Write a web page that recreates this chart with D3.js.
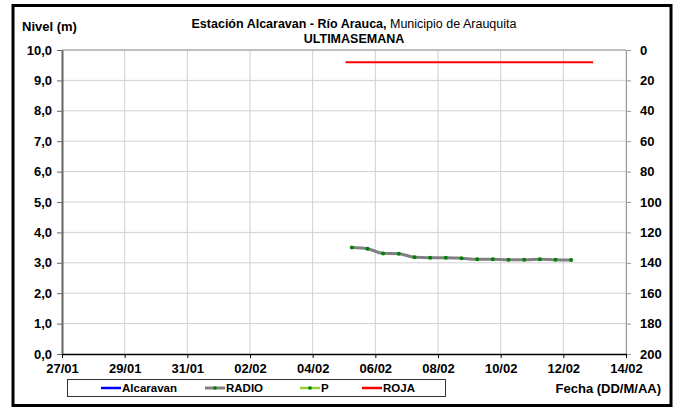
<!DOCTYPE html>
<html><head><meta charset="utf-8">
<script src="https://cdn.jsdelivr.net/npm/d3@7"></script>
<style>body{margin:0;background:#fff}svg{display:block;font-family:"Liberation Sans",Arial,sans-serif}</style>
</head><body><svg id="c" width="677" height="409"></svg>
<script>
// Data (days since 27/01)
const xTickLabels = ["27/01","29/01","31/01","02/02","04/02","06/02","08/02","10/02","12/02","14/02"];
const leftTickLabels = ["0,0","1,0","2,0","3,0","4,0","5,0","6,0","7,0","8,0","9,0","10,0"];
const rightTickLabels = ["0","20","40","60","80","100","120","140","160","180","200"];
const radioDays = [9.25,9.75,10.25,10.75,11.25,11.75,12.25,12.75,13.25,13.75,14.25,14.75,15.25,15.75,16.25];
const radioValues = [3.50,3.46,3.31,3.30,3.18,3.17,3.17,3.15,3.12,3.12,3.10,3.10,3.12,3.10,3.09];
const rojaDays = [9.05,16.95];
const rojaValues = [9.6,9.6];
const legendItems = ["Alcaravan","RADIO","P","ROJA"];

const svg = d3.select("#c");
const L=62,R=626,T=50,B=354;
const x = d3.scaleLinear().domain([0,18]).range([L,R]);
const y = d3.scaleLinear().domain([0,10]).range([B,T]);
const y2 = d3.scaleLinear().domain([0,200]).range([T,B]);

// outer border
svg.append("rect").attr("x",13).attr("y",5.5).attr("width",658).attr("height",400).attr("fill","#fff").attr("stroke","#000").attr("stroke-width",3);

// grid
const g = svg.append("g");
d3.range(1,10).forEach(i=>{
  g.append("line").attr("x1",x(i*2)).attr("x2",x(i*2)).attr("y1",T).attr("y2",B).attr("stroke","#d0d0d0").attr("stroke-width",1);
});
d3.range(1,11).forEach(i=>{
  g.append("line").attr("x1",L).attr("x2",R).attr("y1",y(i)).attr("y2",y(i)).attr("stroke","#d0d0d0").attr("stroke-width",1);
});
g.append("line").attr("x1",L).attr("x2",R).attr("y1",T).attr("y2",T).attr("stroke","#999");

// axes
const fs = "13px";
const leftAxis = d3.axisLeft(y).tickValues(d3.range(0,11)).tickFormat((d,i)=>leftTickLabels[i]).tickSize(5).tickSizeOuter(0);
const ga = svg.append("g").attr("transform",`translate(${L},0)`).call(leftAxis);
ga.select(".domain").attr("stroke","#666").attr("stroke-width",2);
ga.selectAll(".tick line").attr("stroke","#666");
ga.selectAll("text").attr("font-size",fs).attr("font-weight","bold").attr("fill","#000").attr("font-family","Liberation Sans, Arial").attr("x",-10);

const rightAxis = d3.axisRight(y2).tickValues(d3.range(0,201,20)).tickFormat((d,i)=>rightTickLabels[i]).tickSize(5).tickSizeOuter(0);
const gr = svg.append("g").attr("transform",`translate(${R},0)`).call(rightAxis);
gr.select(".domain").attr("stroke","#999").attr("stroke-width",1);
gr.selectAll(".tick line").attr("stroke","#999");
gr.selectAll("text").attr("font-size",fs).attr("font-weight","bold").attr("fill","#000").attr("font-family","Liberation Sans, Arial").attr("x",14);

const bottomAxis = d3.axisBottom(x).tickValues(d3.range(0,19,2)).tickFormat((d,i)=>xTickLabels[i]).tickSize(4).tickSizeOuter(0);
const gb = svg.append("g").attr("transform",`translate(0,${B})`).call(bottomAxis);
gb.select(".domain").attr("stroke","#000").attr("stroke-width",1.5);
gb.selectAll(".tick line").attr("stroke","#000");
gb.selectAll("text").attr("font-size",fs).attr("font-weight","bold").attr("fill","#000").attr("font-family","Liberation Sans, Arial").attr("y",10);

// red line
const line = d3.line().x(d=>x(d[0])).y(d=>y(d[1]));
svg.append("path").datum(rojaDays.map((d,i)=>[d,rojaValues[i]])).attr("d",line).attr("fill","none").attr("stroke","#ff0000").attr("stroke-width",2);

// radio line
const rd = radioDays.map((d,i)=>[d,radioValues[i]]);
svg.append("path").datum(rd).attr("d",d3.line().x(d=>x(d[0])).y(d=>y(d[1])).curve(d3.curveMonotoneX)).attr("fill","none").attr("stroke","#808080").attr("stroke-width",3);
svg.selectAll("circle.p").data(rd).enter().append("circle").attr("cx",d=>x(d[0])).attr("cy",d=>y(d[1])).attr("r",2).attr("fill","#008000");

// title
const t = svg.append("text").attr("x",354).attr("y",28).attr("text-anchor","middle").attr("font-size","12.5px");
t.append("tspan").attr("font-weight","bold").text("Estación Alcaravan - Río Arauca,");
t.append("tspan").text(" Municipio de Arauquita");
svg.append("text").attr("x",354).attr("y",42.5).attr("text-anchor","middle").attr("font-size","12.5px").attr("font-weight","bold").text("ULTIMASEMANA");
svg.append("text").attr("x",22).attr("y",31).attr("font-size","13px").attr("font-weight","bold").text("Nivel (m)");
svg.append("text").attr("x",661).attr("y",393).attr("text-anchor","end").attr("font-size","13px").attr("font-weight","bold").text("Fecha (DD/M/AA)");

// legend
const lg = svg.append("g");
lg.append("rect").attr("x",67.5).attr("y",379.5).attr("width",378).attr("height",17).attr("fill","#fff").attr("stroke","#333").attr("stroke-width",1);
const lx = [101,205,300,362];
const lcol = ["#0000ff","#808080","#9acd32","#ff0000"];
legendItems.forEach((name,i)=>{
  lg.append("line").attr("x1",lx[i]).attr("x2",lx[i]+20).attr("y1",388).attr("y2",388).attr("stroke",lcol[i]).attr("stroke-width",i==1?3:2.5);
  if(i==1||i==2) lg.append("circle").attr("cx",lx[i]+10).attr("cy",388).attr("r",1.8).attr("fill","#008000");
  lg.append("text").attr("x",lx[i]+21).attr("y",392).attr("font-size","11.5px").attr("font-weight","bold").text(name);
});
</script></body></html>
